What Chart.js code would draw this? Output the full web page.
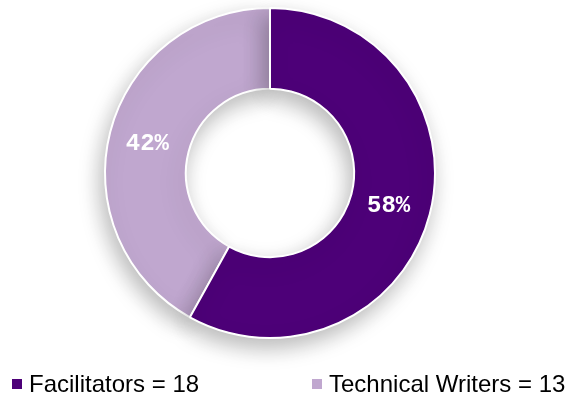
<!DOCTYPE html>
<html>
<head>
<meta charset="utf-8">
<script src="https://cdn.jsdelivr.net/npm/chart.js@4.4.0/dist/chart.umd.min.js"></script>
<style>
  html, body { margin: 0; padding: 0; background: #ffffff; }
  #wrap { position: relative; width: 569px; height: 396px; }
  #legend .item {
    position: absolute; top: 372px; height: 24px; display: flex; align-items: center;
    font: 24px "Liberation Sans", Arial, sans-serif; line-height: 24px; color: #000; white-space: nowrap;
  }
  #legend .box { width: 10px; height: 10px; margin-right: 7px; }
</style>
</head>
<body>
<div id="wrap">
  <canvas id="chart" width="569" height="396"></canvas>
  <div id="legend"></div>
</div>
<script>
// Chart data
const categories = ['Facilitators', 'Technical Writers'];
const counts = [18, 13];
const colors = ['#4d0078', '#c0a7cf'];
const legendLeft = [12, 312];

const total = counts.reduce((a, b) => a + b, 0);

// draw light slice first so the dark slice's shadow falls over it
const order = [1, 0];
const startAngle = -(counts[1] / total) * 360;

// soft shadow under the ring
const shadowPlugin = {
    id: 'ringShadow',
    beforeDatasetDraw(chart) {
        const ctx = chart.ctx;
        ctx.save();
        ctx.shadowColor = 'rgba(0,0,0,0.28)';
        ctx.shadowBlur = 22;
        ctx.shadowOffsetX = -4;
        ctx.shadowOffsetY = 9;
    },
    afterDatasetDraw(chart) {
        chart.ctx.restore();
    }
};

// percentage labels in the middle of each slice
const pctPlugin = {
    id: 'pctLabels',
    afterDatasetsDraw(chart) {
        const ctx = chart.ctx;
        const meta = chart.getDatasetMeta(0);
        ctx.save();
        ctx.fillStyle = '#ffffff';
        ctx.font = 'bold 24px "Courier New", "Liberation Mono", "DejaVu Sans Mono", monospace';
        ctx.textAlign = 'center';
        ctx.textBaseline = 'middle';
        meta.data.forEach((arc, i) => {
            const v = chart.data.datasets[0].data[i];
            const p = arc.tooltipPosition();
            ctx.fillText(Math.round(v / total * 100) + '%', p.x - 2, p.y + 2);
        });
        ctx.restore();
    }
};

new Chart(document.getElementById('chart'), {
    type: 'doughnut',
    data: {
        labels: order.map(i => categories[i]),
        datasets: [{
            data: order.map(i => counts[i]),
            backgroundColor: order.map(i => colors[i]),
            borderColor: '#ffffff',
            borderWidth: 2
        }]
    },
    options: {
        responsive: false,
        animation: false,
        rotation: startAngle,
        cutout: '51%',
        layout: { padding: { left: 104, right: 133, top: 7, bottom: 57 } },
        plugins: { legend: { display: false }, tooltip: { enabled: false } }
    },
    plugins: [shadowPlugin, pctPlugin]
});

// legend below the chart
const legend = document.getElementById('legend');
categories.forEach((name, i) => {
    const item = document.createElement('div');
    item.className = 'item';
    item.style.left = legendLeft[i] + 'px';
    item.innerHTML = `<span class="box" style="background:${colors[i]}"></span><span>${name} = ${counts[i]}</span>`;
    legend.appendChild(item);
});
</script>
</body>
</html>
